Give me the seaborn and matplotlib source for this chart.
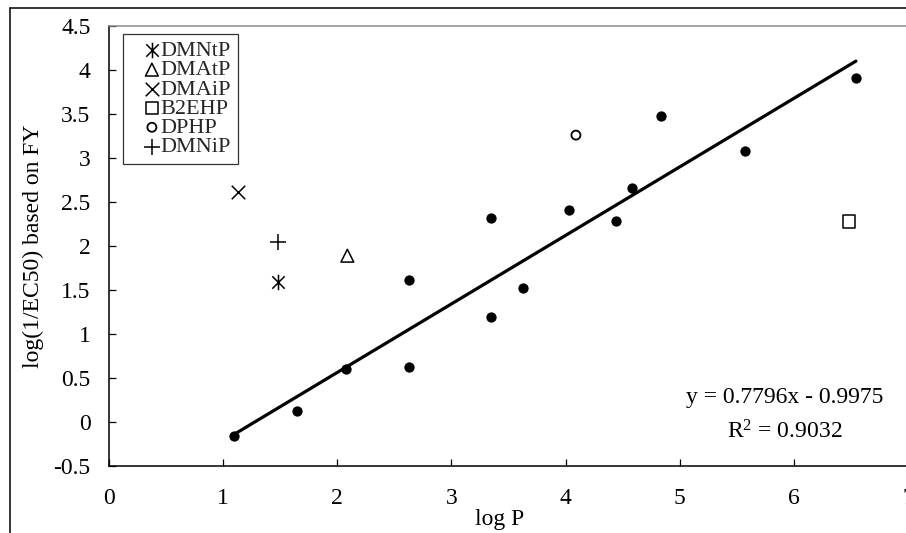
import matplotlib
matplotlib.use("Agg")
import matplotlib.pyplot as plt
from matplotlib.lines import Line2D
from matplotlib.path import Path
import numpy as np
import pandas as pd
import seaborn as sns

# log P and log(1/EC50) of the phthalates used in the regression
fit_logp = [1.10, 1.65, 2.08, 2.63, 2.63, 3.35, 3.35, 3.63, 4.03, 4.44, 4.58, 4.83, 5.57, 6.54]
fit_tox = [-0.16, 0.13, 0.60, 0.62, 1.61, 1.19, 2.32, 1.52, 2.41, 2.28, 2.66, 3.48, 3.08, 3.91]

# compounds plotted separately (outliers)
out_names = ["DMNtP", "DMAtP", "DMAiP", "B2EHP", "DPHP", "DMNiP"]
out_logp = [1.48, 2.09, 1.13, 6.48, 4.09, 1.48]
out_tox = [1.59, 1.89, 2.61, 2.28, 3.26, 2.04]

# regression line stated on the chart
slope = 0.7796
intercept = -0.9975
r_squared = 0.9032

x_ticks = [0, 1, 2, 3, 4, 5, 6, 7]
y_ticks = [-0.5, 0, 0.5, 1, 1.5, 2, 2.5, 3, 3.5, 4, 4.5]

sns.set_theme(style="white")
plt.rcParams["font.family"] = ["Liberation Serif", "DejaVu Serif"]
plt.rcParams["mathtext.fontset"] = "custom"
plt.rcParams["mathtext.rm"] = "Liberation Serif"
plt.rcParams["mathtext.it"] = "Liberation Serif:italic"

FS = 17

W, H = 906, 533
fig = plt.figure(figsize=(W / 100, H / 100), dpi=100)
fig.patch.set_facecolor("white")

# plot area: x from 0 to 7 spans 800 px, y from -0.5 to 4.5 spans 440 px
left_px, top_px, bottom_px = 108.5, 26, 466
ax = fig.add_axes([left_px / W, (H - bottom_px) / H, 800 / W, (bottom_px - top_px) / H])

fit_df = pd.DataFrame({"logP": fit_logp, "tox": fit_tox})
sns.scatterplot(data=fit_df, x="logP", y="tox", ax=ax, color="black",
                edgecolor="black", s=55, linewidth=0, legend=False, zorder=4)

# asterisk: vertical bar crossed by an X
asterisk = Path([(0, -1), (0, 1), (-0.8, -0.8), (0.8, 0.8), (-0.8, 0.8), (0.8, -0.8)],
                [Path.MOVETO, Path.LINETO, Path.MOVETO, Path.LINETO, Path.MOVETO, Path.LINETO])

marker_styles = {
    "DMNtP": dict(marker=asterisk, s=125, facecolor="black", linewidth=1.1),
    "DMAtP": dict(marker="^", s=85, facecolor="none", linewidth=1.1),
    "DMAiP": dict(marker="x", s=95, facecolor="black", linewidth=1.1),
    "B2EHP": dict(marker="s", s=80, facecolor="none", linewidth=1.1),
    "DPHP": dict(marker="o", s=42, facecolor="none", linewidth=1.3),
    "DMNiP": dict(marker="+", s=120, facecolor="black", linewidth=1.1),
}
for name, lx, ly in zip(out_names, out_logp, out_tox):
    st = marker_styles[name]
    sns.scatterplot(x=[lx], y=[ly], ax=ax, marker=st["marker"], s=st["s"],
                    facecolor=st["facecolor"], edgecolor="black", color="black",
                    linewidth=st["linewidth"], label=name, zorder=4)

# fitted line over the range of the regression compounds
line_x = np.array([min(fit_logp), max(fit_logp)])
line_df = pd.DataFrame({"logP": line_x, "tox": slope * line_x + intercept})
sns.lineplot(data=line_df, x="logP", y="tox", ax=ax, color="black",
             linewidth=2.3, legend=False, zorder=3)

ax.set_xlim(0, 7)
ax.set_ylim(-0.5, 4.5)
ax.set_xticks(x_ticks)
ax.set_xticklabels([str(t) for t in x_ticks])
ax.set_yticks(y_ticks)
ax.set_yticklabels([("%g" % t) for t in y_ticks])
ax.tick_params(axis="both", direction="in", length=5, width=0.9, color="black",
               labelsize=FS, labelcolor="black")
ax.tick_params(axis="y", pad=13, left=True)
ax.tick_params(axis="x", pad=16, bottom=True)

for side in ["left", "bottom"]:
    ax.spines[side].set_color("black")
    ax.spines[side].set_linewidth(1.1)
ax.spines["top"].set_color("#8c8c8c")
ax.spines["top"].set_linewidth(1.1)
ax.spines["right"].set_visible(False)

ax.set_xlabel("log P", fontsize=FS, color="black")
ax.xaxis.set_label_coords((500 - left_px) / 800, (bottom_px - 519) / 440)
ax.xaxis.label.set_va("center")
ax.set_ylabel("log(1/EC50) based on FY", fontsize=FS, color="black")
ax.yaxis.set_label_coords((33 - left_px) / 800, 0.5)
ax.yaxis.label.set_va("center")

ax.text(5.92, 0.273, "y = %.4fx - %.4f" % (slope, abs(intercept)), fontsize=FS,
        ha="center", va="center", color="black")
ax.text(5.92, -0.114, "R$^2$ = %.4f" % r_squared, fontsize=FS,
        ha="center", va="center", color="black")

leg = ax.legend(loc="upper left", bbox_to_anchor=((123 - left_px) / 800, 1 - (34 - top_px) / 440),
                borderaxespad=0, fontsize=16, frameon=True, fancybox=False,
                handlelength=2.0, handletextpad=-0.6, borderpad=0.3,
                labelspacing=-0.06, edgecolor="black")
leg.get_frame().set_linewidth(0.9)

# chart-area border along the top and left edges
fig.add_artist(Line2D([9.5 / W, 1.0], [1 - 7.5 / H, 1 - 7.5 / H], color="black",
                      linewidth=1.1, transform=fig.transFigure))
fig.add_artist(Line2D([9.5 / W, 9.5 / W], [0.0, 1 - 7.5 / H], color="black",
                      linewidth=1.1, transform=fig.transFigure))

fig.savefig("out.png", dpi=100, facecolor="white")
